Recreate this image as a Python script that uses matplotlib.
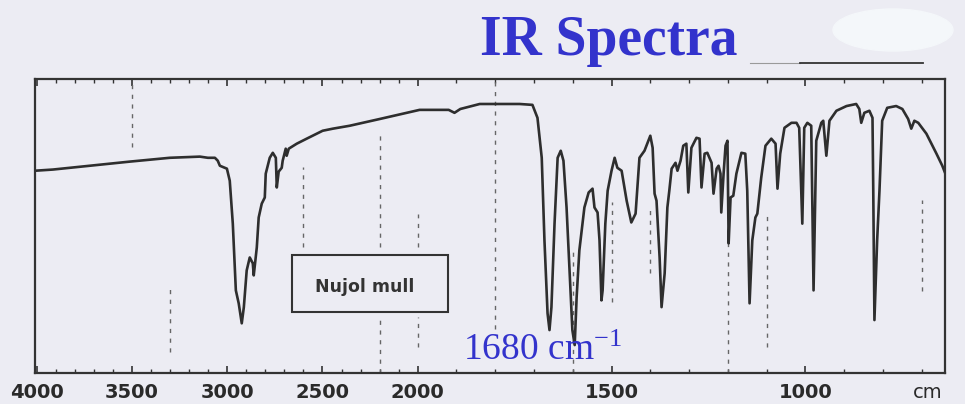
import numpy as np
import matplotlib
matplotlib.use("Agg")
import matplotlib.pyplot as plt
from matplotlib.patches import Rectangle, Ellipse
from matplotlib.lines import Line2D

# wavenumber (cm-1) and transmittance (%)
wavenumber = [4010, 3916, 3722, 3512, 3302, 3144, 3102, 3065, 3050, 3039, 3002, 2987,
              2971, 2955, 2940, 2924, 2913, 2898, 2882, 2866, 2861, 2845, 2835, 2819,
              2803, 2798, 2777, 2761, 2745, 2740, 2730, 2714, 2709, 2693, 2688, 2677,
              2635, 2583, 2499, 2446, 2357, 2199, 1995, 1920, 1905, 1890, 1840, 1737,
              1704, 1691, 1680, 1673, 1665, 1660, 1655, 1647, 1639, 1631, 1624, 1616,
              1608, 1601, 1595, 1590, 1583, 1570, 1559, 1549, 1544, 1536, 1531, 1526,
              1523, 1516, 1510, 1500, 1492, 1485, 1474, 1461, 1449, 1438, 1428, 1415,
              1400, 1394, 1389, 1384, 1376, 1371, 1363, 1356, 1351, 1345, 1335, 1330,
              1322, 1315, 1307, 1302, 1294, 1281, 1273, 1268, 1260, 1253, 1242, 1237,
              1229, 1224, 1219, 1217, 1211, 1206, 1201, 1198, 1193, 1186, 1178, 1165,
              1155, 1150, 1144, 1137, 1129, 1124, 1114, 1103, 1088, 1077, 1072, 1065,
              1054, 1036, 1023, 1016, 1008, 1003, 995, 985, 979, 972, 959, 954,
              946, 938, 920, 894, 869, 861, 856, 848, 835, 827, 825, 822,
              815, 809, 802, 789, 766, 750, 735, 727, 719, 709, 688, 662,
              647, 639]
transmittance = [68.8, 69.2, 70.5, 71.9, 73.2, 73.6, 73.2, 73.2, 72.2, 70.5, 69.5, 65.4,
                 50.8, 28.1, 23.7, 16.9, 22.4, 34.9, 39.3, 37.3, 33.2, 42.7, 52.9, 57.6,
                 59.7, 67.8, 73.2, 74.9, 73.2, 63.1, 68.5, 69.8, 72.2, 76.3, 73.9, 76.3,
                 78.0, 79.7, 82.4, 83.1, 84.1, 86.4, 89.5, 89.5, 88.5, 89.8, 91.5, 91.5,
                 91.2, 86.8, 73.2, 45.1, 20.3, 14.6, 22.4, 50.8, 73.2, 75.6, 72.2, 56.3,
                 33.9, 14.6, 9.5, 25.8, 41.7, 56.3, 61.4, 62.7, 56.3, 54.6, 45.1, 24.7,
                 28.1, 50.8, 62.0, 68.8, 73.2, 69.8, 68.8, 58.6, 51.2, 54.2, 73.2, 75.6,
                 80.7, 76.6, 61.0, 58.6, 39.3, 22.4, 33.9, 56.3, 62.0, 69.5, 71.5, 68.8,
                 72.2, 77.3, 78.0, 61.4, 76.6, 80.0, 79.7, 63.1, 74.6, 74.9, 71.5, 61.0,
                 69.5, 70.5, 67.8, 54.6, 67.8, 77.3, 79.0, 44.1, 59.7, 60.3, 67.8, 74.9,
                 74.6, 62.0, 23.7, 45.1, 52.9, 54.2, 66.4, 77.3, 79.7, 78.0, 62.7, 74.6,
                 83.4, 85.1, 85.1, 83.4, 50.8, 83.4, 85.1, 84.1, 28.1, 79.0, 85.1, 85.8,
                 73.9, 85.8, 89.2, 90.8, 91.5, 89.8, 85.1, 88.5, 89.2, 86.8, 62.0, 18.0,
                 45.1, 62.0, 85.8, 90.2, 90.8, 89.8, 86.4, 83.1, 85.8, 85.1, 81.4, 74.6,
                 70.5, 67.8]

tick_values = [4000, 3500, 3000, 2500, 2000, 1500, 1000]
tick_labels = ["4000", "3500", "3000", "2500", "2000", "1500", "1000"]

# chart-paper guide lines: (wavenumber, low %T, high %T)
guides = [(3500, 77, 100), (3300, 7, 29), (2600, 43, 70), (2200, 43, 81), (2200, 0, 19),
          (2000, 43, 54), (2000, 9, 19), (1800, 15, 100), (1600, 0, 42), (1500, 24, 58),
          (1400, 34, 56), (1200, 0, 50), (1100, 9, 54), (700, 28, 59)]

bg = "#ECECF3"
ink = "#2e2e2e"
blue = "#3333CC"
narrow = ["Liberation Sans Narrow", "DejaVu Sans Condensed", "DejaVu Sans"]

plt.rcParams["mathtext.fontset"] = "custom"
plt.rcParams["mathtext.rm"] = "Liberation Serif"
plt.rcParams["mathtext.it"] = "Liberation Serif"


# chart paper scale: 2x expanded below 2000 cm-1 (increasing in w, axis inverted later)
def fwd(w):
    return -np.interp(w, [0, 2000, 5000], [418 + 2000 * 0.388, 418, 418 - 3000 * 0.1905])


def inv(u):
    return np.interp(-u, [418 - 3000 * 0.1905, 418, 418 + 2000 * 0.388], [5000, 2000, 0])


fig = plt.figure(figsize=(9.65, 4.04), dpi=100, facecolor=bg)
ax = fig.add_axes([35 / 965, 1 - 373 / 404, 910 / 965, 294 / 404], facecolor=bg)
ax.set_xscale("function", functions=(fwd, inv))
ax.set_xlim(4010, 640)
ax.set_ylim(0, 100)

for w, lo, hi in guides:
    ax.vlines(w, lo, hi, colors="#666666", linewidth=1, linestyles=(0, (3, 4)))

ax.plot(wavenumber, transmittance, color=ink, linewidth=1.9, solid_joinstyle="round")

ax.add_patch(Rectangle((2661, 20.7), 1923 - 2661, 19.6, fill=False, edgecolor="#333333", linewidth=1.5))
ax.text(2278, 29.2, "Nujol mull", ha="center", va="center", fontsize=12.5, fontweight="bold", color="#333333")

ax.text(1884, 4.5, "1680 cm$^{-1}$", color=blue, fontsize=27, family="Liberation Serif", ha="left", va="baseline")

for s in ax.spines.values():
    s.set_color("#333333")
    s.set_linewidth(1.6)

ax.set_xticks(tick_values)
ax.set_xticklabels(tick_labels, family=narrow, fontweight="bold", fontsize=14, color="#2a2a2a")
ax.set_xticks(list(range(4000, 2000, -100)) + list(range(2000, 600, -100)), minor=True)
ax.xaxis.set_minor_formatter(plt.NullFormatter())
ax.tick_params(axis="x", which="major", direction="in", length=5, width=1.2, top=True, pad=7, color="#333333")
ax.tick_params(axis="x", which="minor", direction="in", length=3, width=1, top=True, color="#333333")
ax.set_yticks([])
ax.text(685, -0.068, "cm", transform=ax.get_xaxis_transform(), ha="center", va="center",
        family=narrow, fontsize=14, color="#2a2a2a")

fig.text(480 / 965, 1 - 55 / 404, "IR Spectra", color=blue, family="Liberation Serif",
         fontweight="bold", fontsize=40, va="baseline")
fig.add_artist(Line2D([750 / 965, 800 / 965], [1 - 63 / 404] * 2, color="#9a9a9a", linewidth=0.8))
fig.add_artist(Line2D([800 / 965, 923 / 965], [1 - 63 / 404] * 2, color="#333333", linewidth=1.3))
fig.add_artist(Ellipse((893 / 965, 1 - 30 / 404), 120 / 965, 42 / 404, transform=fig.transFigure,
                       color="#F4F7FA", zorder=0))

fig.savefig("out.png", dpi=100, facecolor=bg)
